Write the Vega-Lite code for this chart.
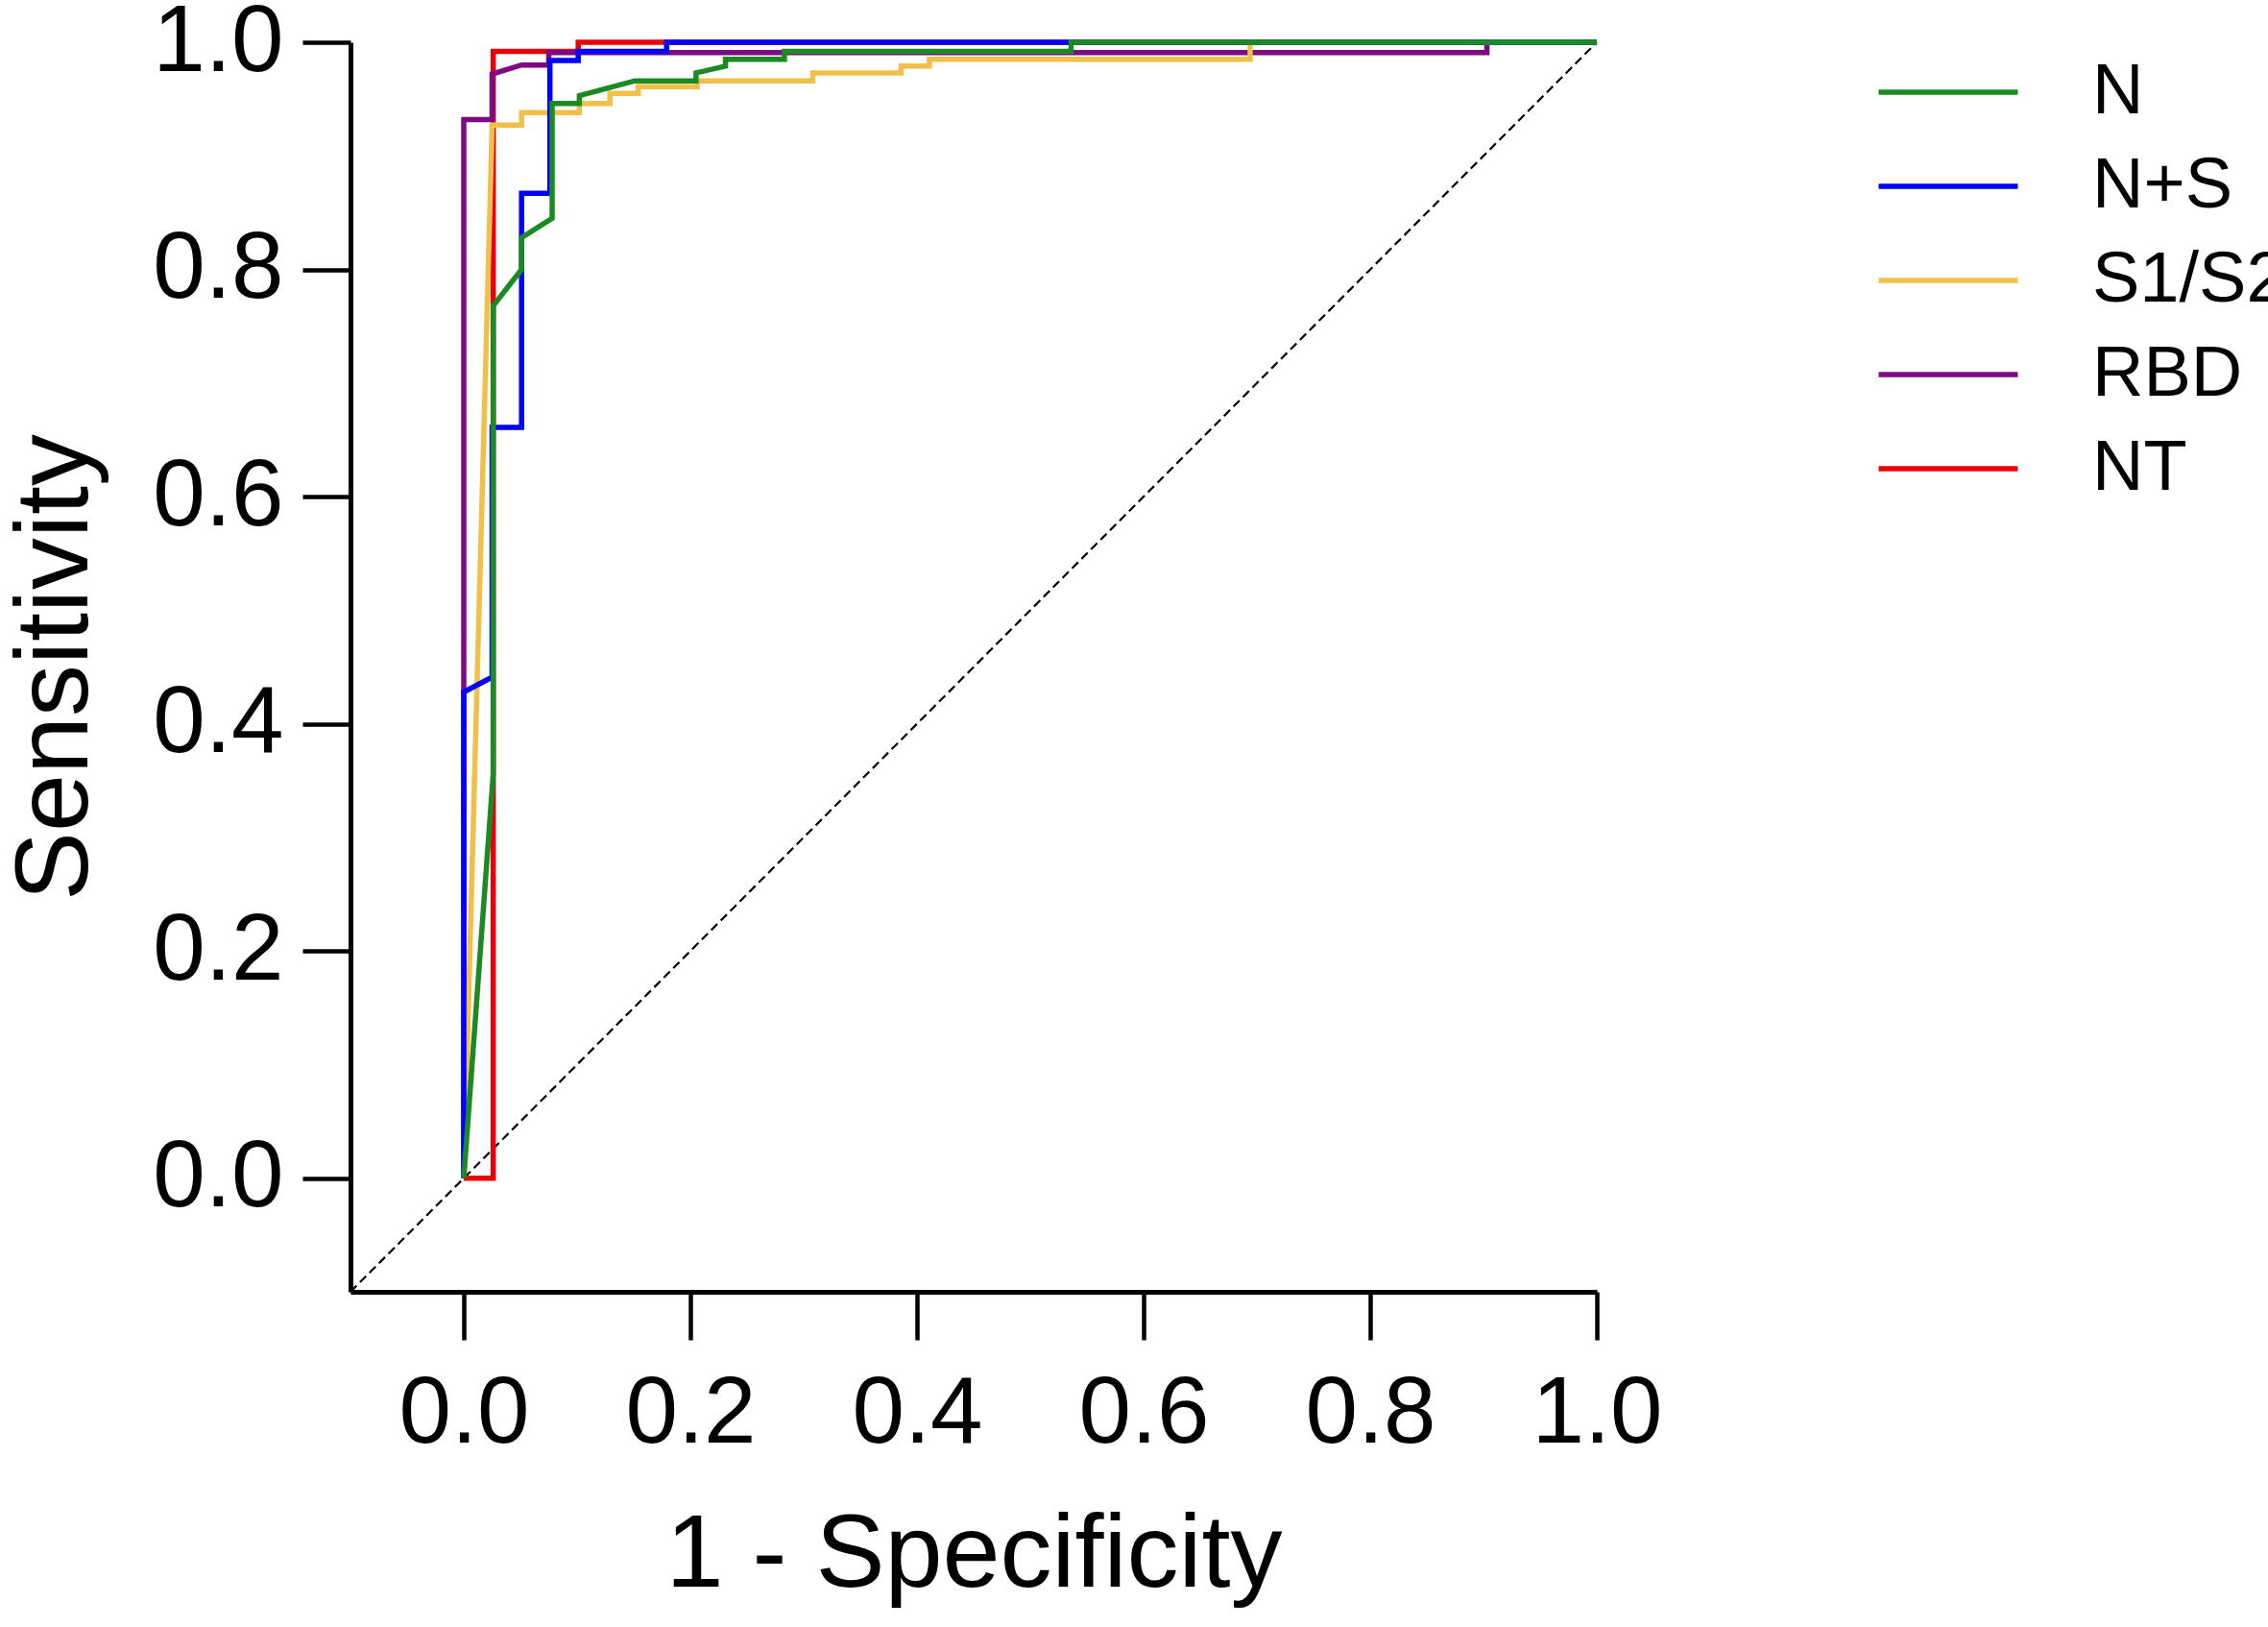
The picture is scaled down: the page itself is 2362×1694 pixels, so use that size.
{
  "$schema": "https://vega.github.io/schema/vega-lite/v6.json",
  "description": "ROC curves for five antibody assays",
  "autosize": {"type": "none"},
  "padding": {"left": 365, "top": 44, "right": 699, "bottom": 349},
  "width": 1298,
  "height": 1301,
  "background": "white",
  "config": {
    "view": {"stroke": null},
    "font": "Liberation Sans",
    "axis": {
      "grid": false,
      "domainColor": "black",
      "domainWidth": 5,
      "tickColor": "black",
      "tickWidth": 4.5,
      "tickSize": 50,
      "labelColor": "black",
      "labelFontSize": 98,
      "labelFont": "Liberation Sans",
      "labelFlush": false,
      "labelOverlap": false,
      "titleColor": "black",
      "titleFont": "Liberation Sans",
      "titleFontSize": 108,
      "titleFontWeight": "normal"
    }
  },
  "datasets": {
    "roc": [
      {"s": "NT", "i": 1, "x": 0, "y": 0},
      {"s": "NT", "i": 2, "x": 0.026, "y": 0},
      {"s": "NT", "i": 3, "x": 0.026, "y": 0.992},
      {"s": "NT", "i": 4, "x": 0.101, "y": 0.992},
      {"s": "NT", "i": 5, "x": 0.101, "y": 1.0},
      {"s": "NT", "i": 6, "x": 1.0, "y": 1.0},

      {"s": "RBD", "i": 7, "x": 0, "y": 0},
      {"s": "RBD", "i": 8, "x": 0, "y": 0.932},
      {"s": "RBD", "i": 9, "x": 0.025, "y": 0.932},
      {"s": "RBD", "i": 10, "x": 0.025, "y": 0.972},
      {"s": "RBD", "i": 11, "x": 0.051, "y": 0.98},
      {"s": "RBD", "i": 12, "x": 0.075, "y": 0.98},
      {"s": "RBD", "i": 13, "x": 0.075, "y": 0.991},
      {"s": "RBD", "i": 14, "x": 0.903, "y": 0.991},
      {"s": "RBD", "i": 15, "x": 0.903, "y": 1.0},
      {"s": "RBD", "i": 16, "x": 1.0, "y": 1.0},

      {"s": "S1/S2", "i": 17, "x": 0, "y": 0},
      {"s": "S1/S2", "i": 18, "x": 0.025, "y": 0.927},
      {"s": "S1/S2", "i": 19, "x": 0.051, "y": 0.927},
      {"s": "S1/S2", "i": 20, "x": 0.051, "y": 0.938},
      {"s": "S1/S2", "i": 21, "x": 0.102, "y": 0.938},
      {"s": "S1/S2", "i": 22, "x": 0.102, "y": 0.946},
      {"s": "S1/S2", "i": 23, "x": 0.129, "y": 0.946},
      {"s": "S1/S2", "i": 24, "x": 0.129, "y": 0.955},
      {"s": "S1/S2", "i": 25, "x": 0.154, "y": 0.955},
      {"s": "S1/S2", "i": 26, "x": 0.154, "y": 0.961},
      {"s": "S1/S2", "i": 27, "x": 0.206, "y": 0.961},
      {"s": "S1/S2", "i": 28, "x": 0.206, "y": 0.966},
      {"s": "S1/S2", "i": 29, "x": 0.308, "y": 0.966},
      {"s": "S1/S2", "i": 30, "x": 0.308, "y": 0.973},
      {"s": "S1/S2", "i": 31, "x": 0.386, "y": 0.973},
      {"s": "S1/S2", "i": 32, "x": 0.386, "y": 0.979},
      {"s": "S1/S2", "i": 33, "x": 0.411, "y": 0.979},
      {"s": "S1/S2", "i": 34, "x": 0.411, "y": 0.985},
      {"s": "S1/S2", "i": 35, "x": 0.694, "y": 0.985},
      {"s": "S1/S2", "i": 36, "x": 0.694, "y": 1.0},
      {"s": "S1/S2", "i": 37, "x": 1.0, "y": 1.0},

      {"s": "N+S", "i": 38, "x": 0, "y": 0},
      {"s": "N+S", "i": 39, "x": 0, "y": 0.428},
      {"s": "N+S", "i": 40, "x": 0.025, "y": 0.441},
      {"s": "N+S", "i": 41, "x": 0.025, "y": 0.661},
      {"s": "N+S", "i": 42, "x": 0.051, "y": 0.661},
      {"s": "N+S", "i": 43, "x": 0.051, "y": 0.867},
      {"s": "N+S", "i": 44, "x": 0.076, "y": 0.867},
      {"s": "N+S", "i": 45, "x": 0.076, "y": 0.984},
      {"s": "N+S", "i": 46, "x": 0.101, "y": 0.984},
      {"s": "N+S", "i": 47, "x": 0.101, "y": 0.992},
      {"s": "N+S", "i": 48, "x": 0.179, "y": 0.992},
      {"s": "N+S", "i": 49, "x": 0.179, "y": 1.0},
      {"s": "N+S", "i": 50, "x": 1.0, "y": 1.0},

      {"s": "N", "i": 51, "x": 0, "y": 0},
      {"s": "N", "i": 52, "x": 0.026, "y": 0.356},
      {"s": "N", "i": 53, "x": 0.026, "y": 0.768},
      {"s": "N", "i": 54, "x": 0.051, "y": 0.8},
      {"s": "N", "i": 55, "x": 0.051, "y": 0.828},
      {"s": "N", "i": 56, "x": 0.078, "y": 0.845},
      {"s": "N", "i": 57, "x": 0.078, "y": 0.946},
      {"s": "N", "i": 58, "x": 0.102, "y": 0.946},
      {"s": "N", "i": 59, "x": 0.102, "y": 0.953},
      {"s": "N", "i": 60, "x": 0.151, "y": 0.966},
      {"s": "N", "i": 61, "x": 0.205, "y": 0.966},
      {"s": "N", "i": 62, "x": 0.205, "y": 0.973},
      {"s": "N", "i": 63, "x": 0.231, "y": 0.979},
      {"s": "N", "i": 64, "x": 0.231, "y": 0.985},
      {"s": "N", "i": 65, "x": 0.283, "y": 0.985},
      {"s": "N", "i": 66, "x": 0.283, "y": 0.992},
      {"s": "N", "i": 67, "x": 0.536, "y": 0.992},
      {"s": "N", "i": 68, "x": 0.536, "y": 1.0},
      {"s": "N", "i": 69, "x": 1.0, "y": 1.0}
    ],
    "chance": [
      {"x": -0.1, "y": -0.1},
      {"x": 1.0, "y": 1.0}
    ]
  },
  "encoding": {
    "x": {
      "field": "x",
      "type": "quantitative",
      "scale": {"domain": [-0.1, 1.0], "nice": false, "zero": false},
      "axis": {
        "title": "1 - Specificity",
        "values": [0, 0.2, 0.4, 0.6, 0.8, 1.0],
        "format": ".1f",
        "labelPadding": 29,
        "titlePadding": 45
      }
    },
    "y": {
      "field": "y",
      "type": "quantitative",
      "scale": {"domain": [-0.1, 1.0], "nice": false, "zero": false},
      "axis": {
        "title": "Sensitivity",
        "values": [0, 0.2, 0.4, 0.6, 0.8, 1.0],
        "format": ".1f",
        "labelPadding": 20,
        "titlePadding": 52
      }
    }
  },
  "layer": [
    {
      "data": {"name": "chance"},
      "mark": {"type": "line", "color": "black", "strokeWidth": 2.2, "strokeDash": [9, 5]}
    },
    {
      "data": {"name": "roc"},
      "mark": {"type": "line", "strokeWidth": 5.5},
      "encoding": {
        "order": {"field": "i", "type": "quantitative"},
        "color": {
          "field": "s",
          "type": "nominal",
          "scale": {
            "domain": ["N", "N+S", "S1/S2", "RBD", "NT"],
            "range": ["#1c8a22", "#0000ff", "#f0c04a", "#7d0a80", "#e8000a"]
          },
          "legend": {
            "title": null,
            "orient": "none",
            "legendX": 1625,
            "legendY": 13,
            "padding": 0,
            "symbolType": "M-2,0H2",
            "symbolSize": 5256,
            "symbolStrokeWidth": 5.5,
            "labelFontSize": 74,
            "labelFont": "Liberation Sans",
            "labelColor": "black",
            "labelOffset": 111,
            "rowPadding": 22,
            "labelLimit": 400
          }
        }
      }
    }
  ]
}
